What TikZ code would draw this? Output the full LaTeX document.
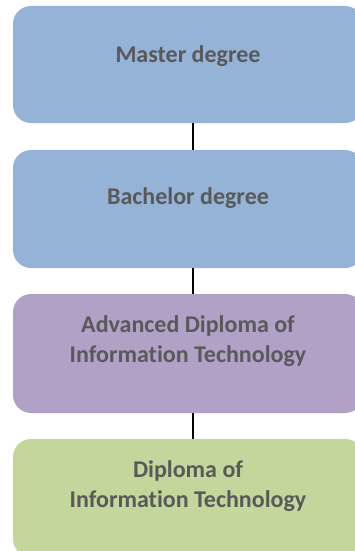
\documentclass[tikz,border=0pt]{standalone}
\usepackage{fontspec}
\setmainfont[Ligatures=NoCommon]{Carlito}
\definecolor{blueC}{HTML}{95B3D7}
\definecolor{purpleC}{HTML}{B2A1C7}
\definecolor{greenC}{HTML}{C3D69B}
\definecolor{textC}{HTML}{595959}
\begin{document}
\begin{tikzpicture}[x=1pt,y=-1pt,
  box/.style={draw=none, rounded corners=18pt, minimum width=350pt, inner sep=0pt},
  lbl/.style={font=\fontsize{24}{30}\selectfont\bfseries, text=textC, align=center, inner sep=0pt},
  conn/.style={draw=black, line width=1.5pt}]
\useasboundingbox (0,0) rectangle (355,551);
\clip (0,0) rectangle (355,551);
\fill[white] (0,0) rectangle (355,551);
\node[box, fill=blueC, minimum height=117pt] (b1) at (188,64.5) {};
\node[box, fill=blueC, minimum height=118pt] (b2) at (188,209) {};
\node[box, fill=purpleC, minimum height=119pt] (b3) at (188,353.5) {};
\node[box, fill=greenC, minimum height=118pt] (b4) at (188,498) {};
\node[lbl] (t1) at (188,56) {Master degree};
\node[lbl] (t2) at (188,198) {Bachelor degree};
\node[lbl] (t3) at (188,341) {Advanced Diploma of\\Information Technology};
\node[lbl] (t4) at (188,486) {Diploma of\\Information Technology};
\draw[conn] ([xshift=5pt]b1.south) -- ([xshift=5pt]b2.north);
\draw[conn] ([xshift=5pt]b2.south) -- ([xshift=5pt]b3.north);
\draw[conn] ([xshift=5pt]b3.south) -- ([xshift=5pt]b4.north);
\end{tikzpicture}
\end{document}
